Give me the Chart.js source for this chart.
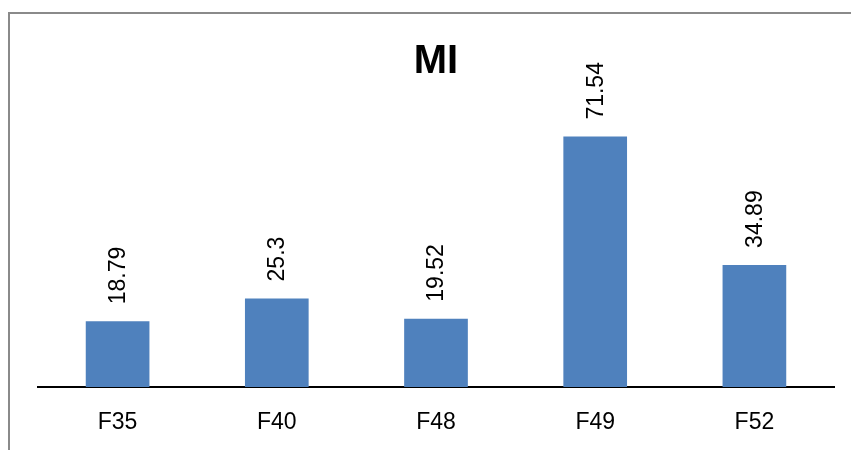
<!DOCTYPE html>
<html>
<head>
<meta charset="utf-8">
<title>MI</title>
<script src="https://cdn.jsdelivr.net/npm/chart.js@4/dist/chart.umd.min.js"></script>
<style>
  html, body { margin: 0; padding: 0; background: #ffffff; }
  #wrap { width: 851px; height: 450px; }
</style>
</head>
<body>
<div id="wrap"><canvas id="chart" width="851" height="450"></canvas></div>
<script>
// Categories and MI values
const categories = ['F35', 'F40', 'F48', 'F49', 'F52'];
const miValues = [18.79, 25.3, 19.52, 71.54, 34.89];
const chartTitle = 'MI';

const BAR_COLOR = '#4F81BD';
const FONT = "'Liberation Sans', Arial, sans-serif";

// Grey frame along the left and top edges of the chart panel
const framePlugin = {
  id: 'frame',
  beforeDraw(chart) {
    const ctx = chart.ctx;
    ctx.save();
    ctx.strokeStyle = '#8a8a8a';
    ctx.lineWidth = 2;
    ctx.beginPath();
    ctx.moveTo(9, chart.height);
    ctx.lineTo(9, 13);
    ctx.lineTo(chart.width, 13);
    ctx.stroke();
    ctx.restore();
  }
};

// Vertical value labels above each bar
const valueLabelPlugin = {
  id: 'valueLabels',
  afterDatasetsDraw(chart) {
    const ctx = chart.ctx;
    chart.data.datasets.forEach((ds, di) => {
      const meta = chart.getDatasetMeta(di);
      meta.data.forEach((bar, i) => {
        ctx.save();
        ctx.translate(bar.x + 1, bar.y - 17);
        ctx.rotate(-Math.PI / 2);
        ctx.font = '23px ' + FONT;
        ctx.fillStyle = '#000000';
        ctx.textAlign = 'left';
        ctx.textBaseline = 'middle';
        ctx.fillText(String(ds.data[i]), 0, 0);
        ctx.restore();
      });
    });
  }
};

new Chart(document.getElementById('chart'), {
  type: 'bar',
  data: {
    labels: categories,
    datasets: [{
      label: chartTitle,
      data: miValues,
      backgroundColor: BAR_COLOR,
      borderWidth: 0,
      barPercentage: 0.4,
      categoryPercentage: 1.0
    }]
  },
  options: {
    responsive: false,
    animation: false,
    devicePixelRatio: 1,
    layout: { padding: { left: 38, right: 17, top: 0, bottom: 0 } },
    plugins: {
      legend: { display: false },
      tooltip: { enabled: false },
      title: {
        display: true,
        text: chartTitle,
        color: '#000000',
        font: { family: FONT, size: 40, weight: 'bold' },
        padding: { top: 38, bottom: 21 }
      }
    },
    scales: {
      x: {
        grid: { display: false, drawTicks: false },
        border: { display: true, color: '#000000', width: 2 },
        ticks: {
          color: '#000000',
          font: { family: FONT, size: 23 },
          padding: 22,
          maxRotation: 0
        },
        afterFit(scale) { scale.height = 63; }
      },
      y: {
        display: false,
        min: 0,
        max: 80
      }
    }
  },
  plugins: [framePlugin, valueLabelPlugin]
});
</script>
</body>
</html>
